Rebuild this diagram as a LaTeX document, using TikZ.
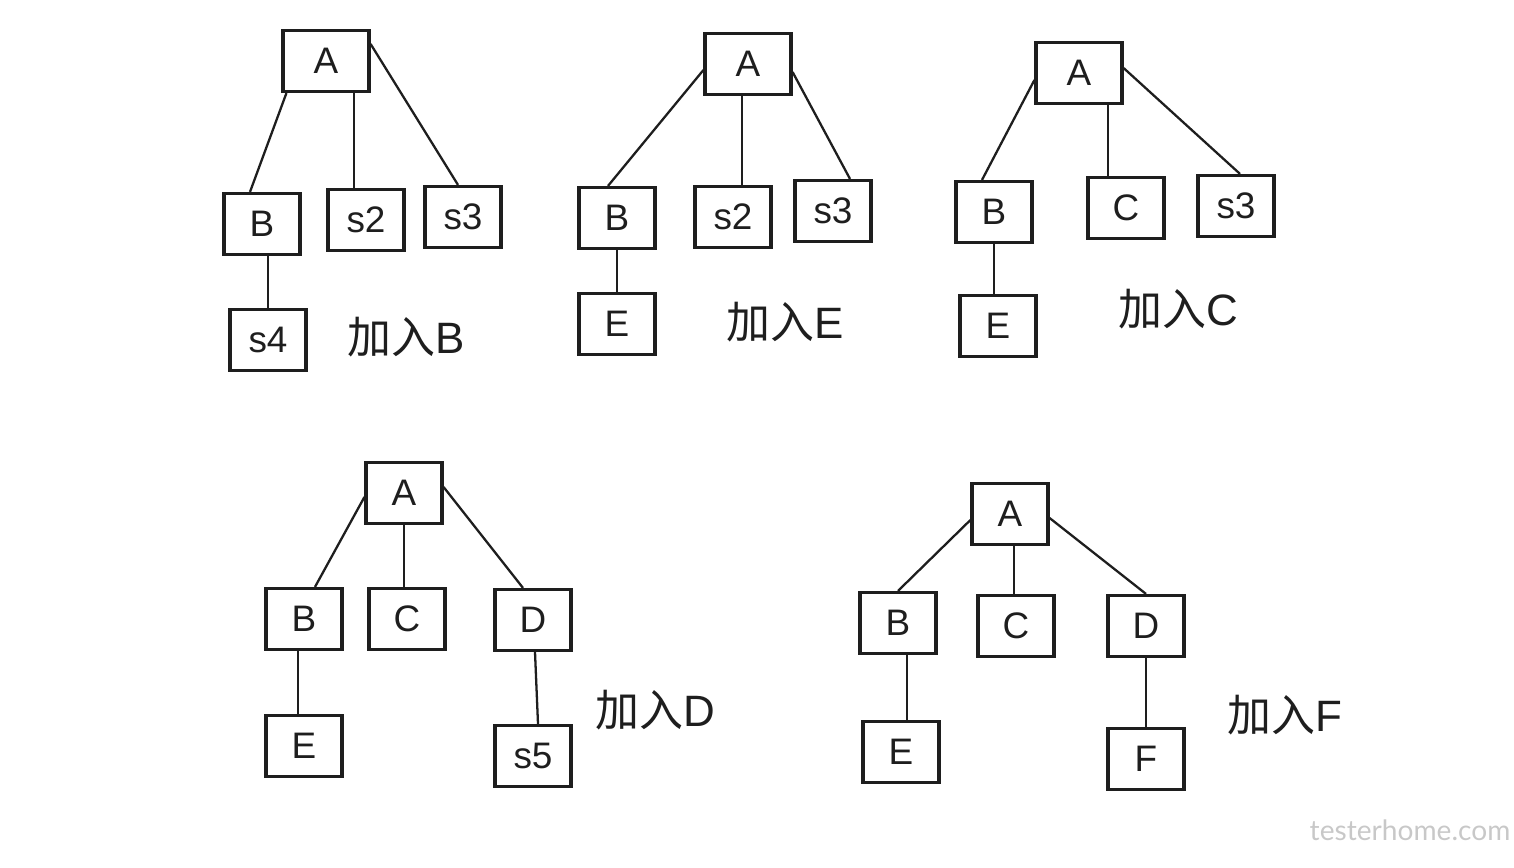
\documentclass[tikz,border=0pt]{standalone}
\usepackage{fontspec}
\setmainfont{Liberation Sans}
\newfontfamily\cjk{Noto Sans CJK SC}
\newfontfamily\tenweb{Lato}
\usepackage{xcolor}
\definecolor{dnden}{HTML}{1E1E1E}
\definecolor{dnxam}{HTML}{C8C8C8}
\def\mauvien{dnden}
\def\mauchim{dnxam}
\usepackage{tikz}
\usetikzlibrary{calc}

\begin{document}
\begin{tikzpicture}[x=0.02cm,y=-0.02cm]
		\tikzstyle{hop} = [draw=\mauvien,line width=1.8pt,minimum width=1.52cm,minimum height=1.22cm,inner sep=0pt,font=\fontsize{21}{24}\selectfont,text=\mauvien]
		\tikzstyle{hopgoc} = [hop,minimum width=1.72cm]
		\tikzstyle{canh} = [draw=\mauvien,line width=1.3pt]
		\tikzstyle{nhan} = [font=\fontsize{25}{28}\selectfont,text=\mauvien]
		\useasboundingbox (0,0) rectangle (1514,868);
		% cay 1: them B
		\node[hopgoc] (t1A) at (326,61) {A};
		\node[hop] (t1B) at (262,224) {B};
		\node[hop] (t1s2) at (366,220) {s2};
		\node[hop] (t1s3) at (463,217) {s3};
		\node[hop] (t1s4) at (268,340) {s4};
		\node[nhan] (t1lbl) at (406,337) {{\cjk 加入}B};
		\draw[canh] ($(t1A.south west)+(5,0)$)--($(t1B.north)+(-12,0)$);
		\draw[canh] ($(t1A.south)+(28,0)$)--($(t1s2.north)+(-12,0)$);
		\draw[canh] ($(t1A.north east)+(0,15)$)--($(t1s3.north)+(-5,0)$);
		\draw[canh] (t1B.south -| t1s4.north)--(t1s4.north);
		% cay 2: them E
		\node[hopgoc] (t2A) at (748,64) {A};
		\node[hop] (t2B) at (617,218) {B};
		\node[hop] (t2s2) at (733,217) {s2};
		\node[hop] (t2s3) at (833,211) {s3};
		\node[hop] (t2E) at (617,324) {E};
		\node[nhan] (t2lbl) at (785,322) {{\cjk 加入}E};
		\draw[canh] ($(t2A.west)+(0,6)$)--($(t2B.north)+(-9,0)$);
		\draw[canh] ($(t2A.south)+(-6,0)$)--($(t2s2.north)+(9,0)$);
		\draw[canh] ($(t2A.east)+(0,8)$)--($(t2s3.north)+(17,0)$);
		\draw[canh] (t2B.south)--(t2E.north);
		% cay 3: them C
		\node[hopgoc] (t3A) at (1079,73) {A};
		\node[hop] (t3B) at (994,212) {B};
		\node[hop] (t3C) at (1126,208) {C};
		\node[hop] (t3s3) at (1236,206) {s3};
		\node[hop] (t3E) at (998,326) {E};
		\node[nhan] (t3lbl) at (1178,309) {{\cjk 加入}C};
		\draw[canh] ($(t3A.west)+(0,7)$)--($(t3B.north)+(-12,0)$);
		\draw[canh] ($(t3A.south)+(29,0)$)--($(t3C.north)+(-18,0)$);
		\draw[canh] ($(t3A.east)+(0,-5)$)--($(t3s3.north)+(4,0)$);
		\draw[canh] (t3B.south)--(t3B.south |- t3E.north);
		% cay 4: them D
		\node[hop] (t4A) at (404,493) {A};
		\node[hop] (t4B) at (304,619) {B};
		\node[hop] (t4C) at (407,619) {C};
		\node[hop] (t4D) at (533,620) {D};
		\node[hop] (t4E) at (304,746) {E};
		\node[hop] (t4s5) at (533,756) {s5};
		\node[nhan] (t4lbl) at (655,710) {{\cjk 加入}D};
		\draw[canh] ($(t4A.west)+(0,4)$)--($(t4B.north)+(11,0)$);
		\draw[canh] (t4A.south)--(t4A.south |- t4C.north);
		\draw[canh] ($(t4A.east)+(0,-6)$)--($(t4D.north)+(-10,0)$);
		\draw[canh] ($(t4B.south)+(-6,0)$)--($(t4E.north)+(-6,0)$);
		\draw[canh] ($(t4D.south)+(2,0)$)--($(t4s5.north)+(5,0)$);
		% cay 5: them F
		\node[hop] (t5A) at (1010,514) {A};
		\node[hop] (t5B) at (898,623) {B};
		\node[hop] (t5C) at (1016,626) {C};
		\node[hop] (t5D) at (1146,626) {D};
		\node[hop] (t5E) at (901,752) {E};
		\node[hop] (t5F) at (1146,759) {F};
		\node[nhan] (t5lbl) at (1285,715) {{\cjk 加入}F};
		\draw[canh] ($(t5A.west)+(0,6)$)--(t5B.north);
		\draw[canh] ($(t5A.south)+(4,0)$)--($(t5C.north)+(-2,0)$);
		\draw[canh] ($(t5A.east)+(0,4)$)--(t5D.north);
		\draw[canh] ($(t5B.south)+(9,0)$)--($(t5E.north)+(6,0)$);
		\draw[canh] (t5D.south)--(t5F.north);
		% chu chim
		\node[font=\tenweb\fontsize{16}{18}\selectfont,text=\mauchim] (chim) at (1410,830) {testerhome.com};
	\end{tikzpicture}
\end{document}
